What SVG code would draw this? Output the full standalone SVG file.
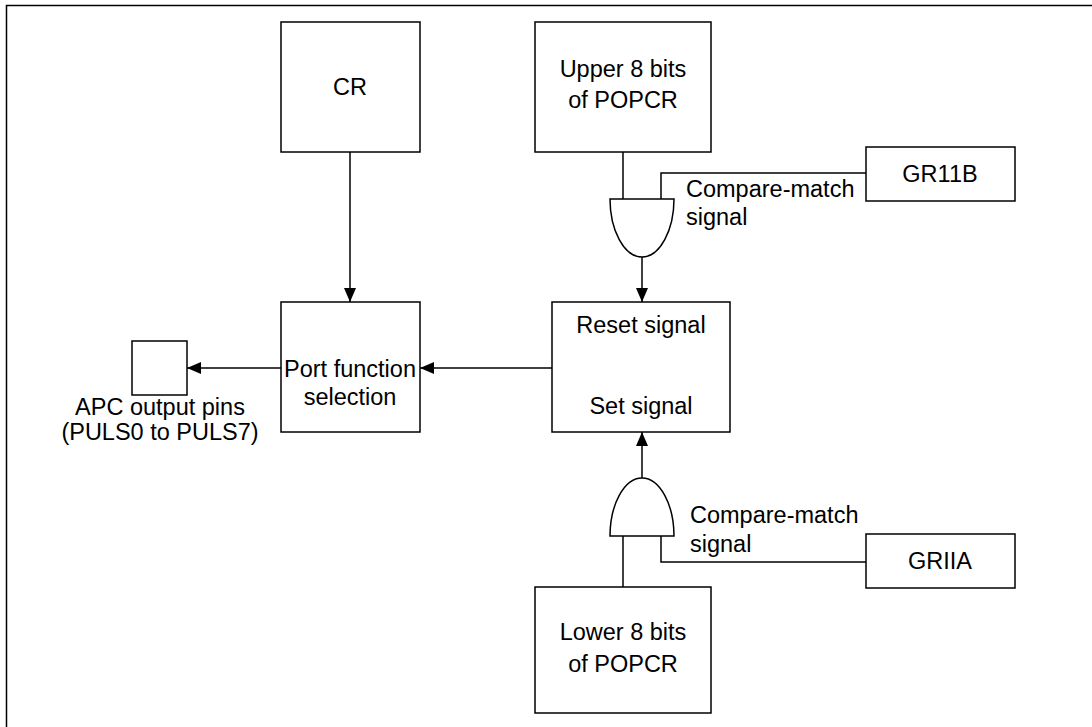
<svg xmlns="http://www.w3.org/2000/svg" width="1092" height="727" viewBox="0 0 1092 727">
<style>
.b{fill:#fff;stroke:#000;stroke-width:1.5}
.l{fill:none;stroke:#000;stroke-width:1.5}
text{font-family:"Liberation Sans",Arial,sans-serif;font-size:23.5px;fill:#000}
.c{text-anchor:middle}
</style>
<defs>
<marker id="ah" markerWidth="14" markerHeight="12" refX="14" refY="6" orient="auto" markerUnits="userSpaceOnUse">
<path d="M0,0 L14,6 L0,12 Z" fill="#000"/>
</marker>
</defs>
<rect width="1092" height="727" fill="#fff"/>
<path d="M6.5,727 V5.5 H1092" fill="none" stroke="#000" stroke-width="1.5"/>
<g id="cr"><rect class="b" x="281" y="22" width="139" height="130"/><text class="c" x="350" y="95">CR</text></g>
<g id="upper"><rect class="b" x="535" y="22" width="176" height="130"/><text class="c" x="623" y="77">Upper 8 bits</text><text class="c" x="623" y="108">of POPCR</text></g>
<g id="gr11b"><rect class="b" x="866" y="147" width="149" height="54"/><text class="c" x="940" y="182">GR11B</text></g>
<g id="gate1"><path class="b" d="M610,199 H674 C674,230 660,257 642,257 C624,257 610,230 610,199 Z"/></g>
<g id="reset"><rect class="b" x="552" y="302" width="178" height="130"/><text class="c" x="641" y="333">Reset signal</text><text class="c" x="641" y="414">Set signal</text></g>
<g id="port"><rect class="b" x="281" y="302" width="139" height="130"/><text class="c" x="350" y="377">Port function</text><text class="c" x="350" y="405">selection</text></g>
<g id="pins"><rect class="b" x="132" y="341" width="55" height="54"/><text class="c" x="160" y="415">APC output pins</text><text class="c" x="160" y="440">(PULS0 to PULS7)</text></g>
<g id="gate2"><path class="b" d="M610,536 H674 C674,505 660,478 642,478 C624,478 610,505 610,536 Z"/></g>
<g id="griia"><rect class="b" x="866" y="534" width="149" height="54"/><text class="c" x="940" y="569">GRIIA</text></g>
<g id="lower"><rect class="b" x="535" y="587" width="176" height="126"/><text class="c" x="623" y="640">Lower 8 bits</text><text class="c" x="623" y="672">of POPCR</text></g>
<g id="labels">
<text x="686" y="197">Compare-match</text><text x="686" y="225">signal</text>
<text x="690" y="523">Compare-match</text><text x="690" y="552">signal</text>
</g>
<g id="connectors">
<path class="l" d="M623,152 V199"/>
<path class="l" d="M661,199 V173 H866"/>
<path class="l" d="M642,257 V302" marker-end="url(#ah)"/>
<path class="l" d="M350,152 V302" marker-end="url(#ah)"/>
<path class="l" d="M552,368 H420" marker-end="url(#ah)"/>
<path class="l" d="M281,368 H187" marker-end="url(#ah)"/>
<path class="l" d="M642,478 V432" marker-end="url(#ah)"/>
<path class="l" d="M623,536 V587"/>
<path class="l" d="M661,536 V562 H866"/>
</g>
</svg>
